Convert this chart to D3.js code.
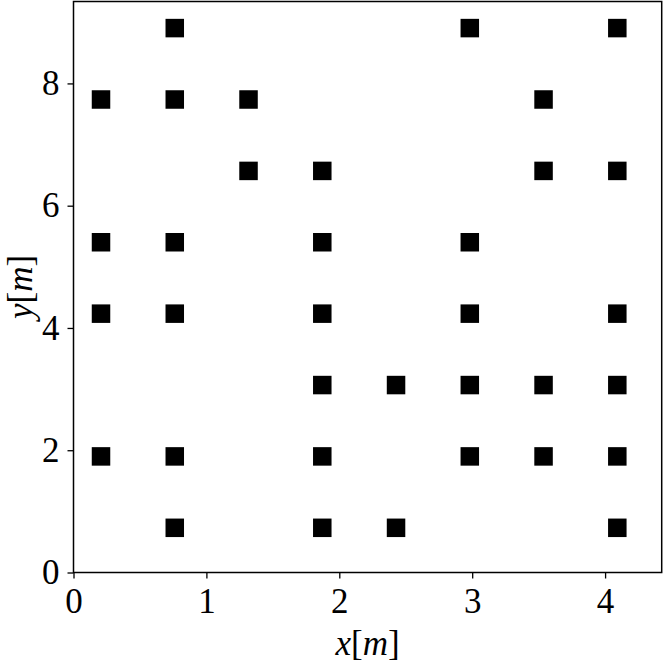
<!DOCTYPE html>
<html>
<head>
<meta charset="utf-8">
<script src="https://cdn.jsdelivr.net/npm/d3@7"></script>
<style>
  html, body { margin: 0; padding: 0; background: #fff; }
  svg { display: block; }
  text { font-family: "Liberation Serif", "DejaVu Serif", serif; }
</style>
</head>
<body>
<svg id="chart" width="664" height="664"></svg>
<script>
// Data: point coordinates (metres)
const pointX = [
  0.762, 2.982, 4.092,
  0.207, 0.762, 1.317, 3.537,
  1.317, 1.872, 3.537, 4.092,
  0.207, 0.762, 1.872, 2.982,
  0.207, 0.762, 1.872, 2.982, 4.092,
  1.872, 2.427, 2.982, 3.537, 4.092,
  0.207, 0.762, 1.872, 2.982, 3.537, 4.092,
  0.762, 1.872, 2.427, 4.092
];
const pointY = [
  8.905, 8.905, 8.905,
  7.737, 7.737, 7.737, 7.737,
  6.569, 6.569, 6.569, 6.569,
  5.402, 5.402, 5.402, 5.402,
  4.234, 4.234, 4.234, 4.234, 4.234,
  3.066, 3.066, 3.066, 3.066, 3.066,
  1.899, 1.899, 1.899, 1.899, 1.899, 1.899,
  0.731, 0.731, 0.731, 0.731
];
const xTicks = [0, 1, 2, 3, 4];
const yTicks = [0, 2, 4, 6, 8];
const xDomain = [0, 4.426];
const yDomain = [0, 9.34];

(function () {
  const svg = d3.select("#chart");
  const pL = 73.5, pR = 661.7, pT = 1.5, pB = 572.5;

  const x = d3.scaleLinear().domain(xDomain).range([pL, pR]);
  const y = d3.scaleLinear().domain(yDomain).range([pB, pT]);

  // markers
  const size = 18.5;
  svg.append("g").selectAll("rect")
    .data(pointX.map((v, i) => [v, pointY[i]]))
    .join("rect")
    .attr("x", d => x(d[0]) - size / 2)
    .attr("y", d => y(d[1]) - size / 2)
    .attr("width", size)
    .attr("height", size)
    .attr("fill", "#000");

  // axes
  const fontSize = 35;
  const gx = svg.append("g")
    .attr("transform", `translate(0,${pB})`)
    .call(d3.axisBottom(x).tickValues(xTicks).tickFormat(d3.format("d")).tickSize(6).tickPadding(10));
  const gy = svg.append("g")
    .attr("transform", `translate(${pL},0)`)
    .call(d3.axisLeft(y).tickValues(yTicks).tickFormat(d3.format("d")).tickSize(6).tickPadding(8));

  [gx, gy].forEach(g => {
    g.select(".domain").remove();
    g.selectAll(".tick line").attr("stroke", "#000").attr("stroke-width", 1.3);
    g.selectAll(".tick text").attr("font-size", fontSize).attr("fill", "#000")
      .attr("font-family", "'Liberation Serif', serif");
  });

  // frame
  svg.append("rect")
    .attr("x", pL).attr("y", pT)
    .attr("width", pR - pL).attr("height", pB - pT)
    .attr("fill", "none").attr("stroke", "#000").attr("stroke-width", 1.5);

  // axis labels
  const xl = svg.append("text")
    .attr("x", (pL + pR) / 2).attr("y", 655)
    .attr("text-anchor", "middle").attr("font-size", fontSize);
  xl.append("tspan").attr("font-style", "italic").text("x");
  xl.append("tspan").text("[");
  xl.append("tspan").attr("font-style", "italic").text("m");
  xl.append("tspan").text("]");

  const yl = svg.append("text")
    .attr("transform", `translate(32,${(pT + pB) / 2}) rotate(-90)`)
    .attr("text-anchor", "middle").attr("font-size", fontSize);
  yl.append("tspan").attr("font-style", "italic").text("y");
  yl.append("tspan").text("[");
  yl.append("tspan").attr("font-style", "italic").text("m");
  yl.append("tspan").text("]");
})();
</script>
</body>
</html>
